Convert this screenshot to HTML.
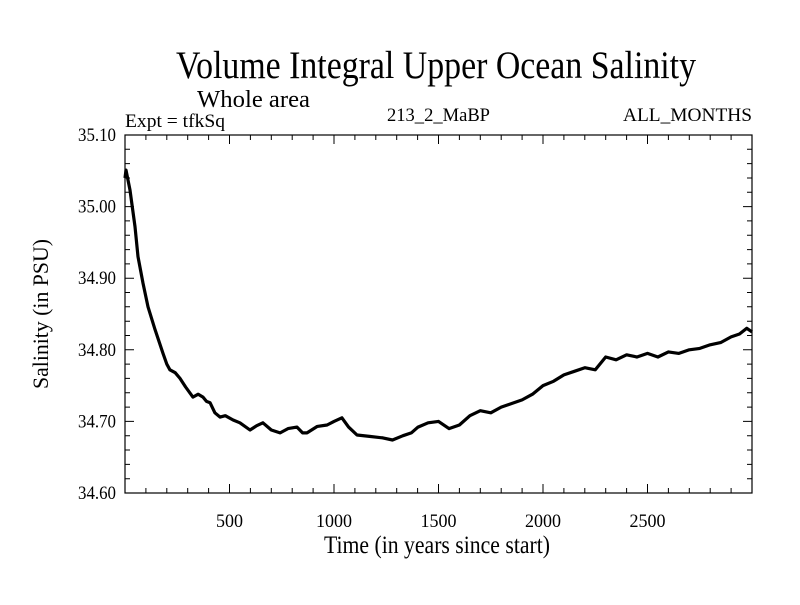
<!DOCTYPE html>
<html><head><meta charset="utf-8"><style>
html,body{margin:0;padding:0;background:#fff;}
svg text{font-family:"Liberation Serif",serif;fill:#000;}
</style></head><body>
<svg id="chart" width="800" height="600" xmlns="http://www.w3.org/2000/svg">
<rect width="800" height="600" fill="#fff"/>
<text x="436" y="78" font-size="39" text-anchor="middle" textLength="520" lengthAdjust="spacingAndGlyphs">Volume Integral Upper Ocean Salinity</text>
<text x="197" y="107" font-size="24" textLength="113" lengthAdjust="spacingAndGlyphs">Whole area</text>
<text x="125" y="127" font-size="19" textLength="100" lengthAdjust="spacingAndGlyphs">Expt = tfkSq</text>
<text x="387" y="121" font-size="19" textLength="103" lengthAdjust="spacingAndGlyphs">213_2_MaBP</text>
<text x="752" y="121" font-size="19" text-anchor="end" textLength="129" lengthAdjust="spacingAndGlyphs">ALL_MONTHS</text>
<text x="437" y="553" font-size="25" text-anchor="middle" textLength="226" lengthAdjust="spacingAndGlyphs">Time (in years since start)</text>
<text transform="translate(48,314) rotate(-90)" font-size="22" text-anchor="middle" textLength="150" lengthAdjust="spacingAndGlyphs">Salinity (in PSU)</text>
<g id="axes"></g>
<g id="plot"></g>
</svg>
<script>
const years = [0,5,24,48,62,86,110,144,182,200,215,240,263,290,325,350,373,390,407,430,455,480,517,550,598,630,660,700,742,780,823,850,871,920,967,1000,1038,1070,1110,1170,1234,1280,1330,1370,1402,1450,1500,1550,1600,1650,1700,1750,1800,1850,1900,1950,2000,2050,2100,2150,2200,2250,2300,2350,2400,2450,2500,2550,2600,2650,2700,2750,2800,2850,2900,2940,2975,3000];
const salinity = [35.04,35.051,35.023,34.972,34.93,34.893,34.86,34.828,34.795,34.78,34.772,34.768,34.76,34.748,34.734,34.738,34.734,34.728,34.726,34.712,34.706,34.708,34.702,34.698,34.688,34.694,34.698,34.688,34.684,34.690,34.692,34.684,34.684,34.693,34.695,34.700,34.705,34.692,34.681,34.679,34.677,34.674,34.68,34.684,34.692,34.698,34.70,34.69,34.695,34.708,34.715,34.712,34.72,34.725,34.73,34.738,34.75,34.756,34.765,34.770,34.775,34.772,34.79,34.786,34.793,34.790,34.795,34.790,34.797,34.795,34.80,34.802,34.807,34.810,34.818,34.822,34.83,34.825];
const xTicks = [500,1000,1500,2000,2500];
const yTicks = [34.60,34.70,34.80,34.90,35.00,35.10];

const L=125,R=752,T=135,B=493;
const xMin=0,xMax=3000,yMin=34.6,yMax=35.1;
const sx=v=>L+(v-xMin)/(xMax-xMin)*(R-L);
const sy=v=>B-(v-yMin)/(yMax-yMin)*(B-T);
const NS="http://www.w3.org/2000/svg";
const axes=document.getElementById('axes');
const plot=document.getElementById('plot');
function mk(tag,attrs,parent){const e=document.createElementNS(NS,tag);for(const k in attrs)e.setAttribute(k,attrs[k]);parent.appendChild(e);return e;}

const frame=mk('rect',{x:L,y:T,width:R-L,height:B-T,fill:'none',stroke:'#000','stroke-width':1.2},axes);



let d='';
for(let v=100;v<xMax;v+=100){
  const x=sx(v).toFixed(1);const len=(v%500===0)?9:5;
  d+=`M${x} ${B}v${-len}M${x} ${T}v${len}`;
}
for(let i=1;i<25;i++){
  const v=yMin+i*0.02;const y=sy(v).toFixed(1);const len=(i%5===0)?9:5;
  d+=`M${L} ${y}h${len}M${R} ${y}h${-len}`;
}
const ticks=mk('path',{d:d,stroke:'#000','stroke-width':1,fill:'none'},axes);



xTicks.forEach(v=>{
  const t=mk('text',{x:sx(v),y:527,'font-size':19,'text-anchor':'middle',textLength:36,lengthAdjust:'spacingAndGlyphs'},axes);
  if(v<1000)t.setAttribute('textLength',27);
  t.textContent=String(v);
  
  
});
yTicks.forEach(v=>{
  const t=mk('text',{x:116,y:sy(v)+6,'font-size':19,'text-anchor':'end',textLength:38,lengthAdjust:'spacingAndGlyphs'},axes);
  t.textContent=v.toFixed(2);
  
  
});

let p='';
years.forEach((yr,i)=>{p+=(i?'L':'M')+sx(yr).toFixed(1)+' '+sy(salinity[i]).toFixed(1);});
const line=mk('path',{d:p,fill:'none',stroke:'#000','stroke-width':3.2,'stroke-linejoin':'round'},plot);


</script>
</body></html>
